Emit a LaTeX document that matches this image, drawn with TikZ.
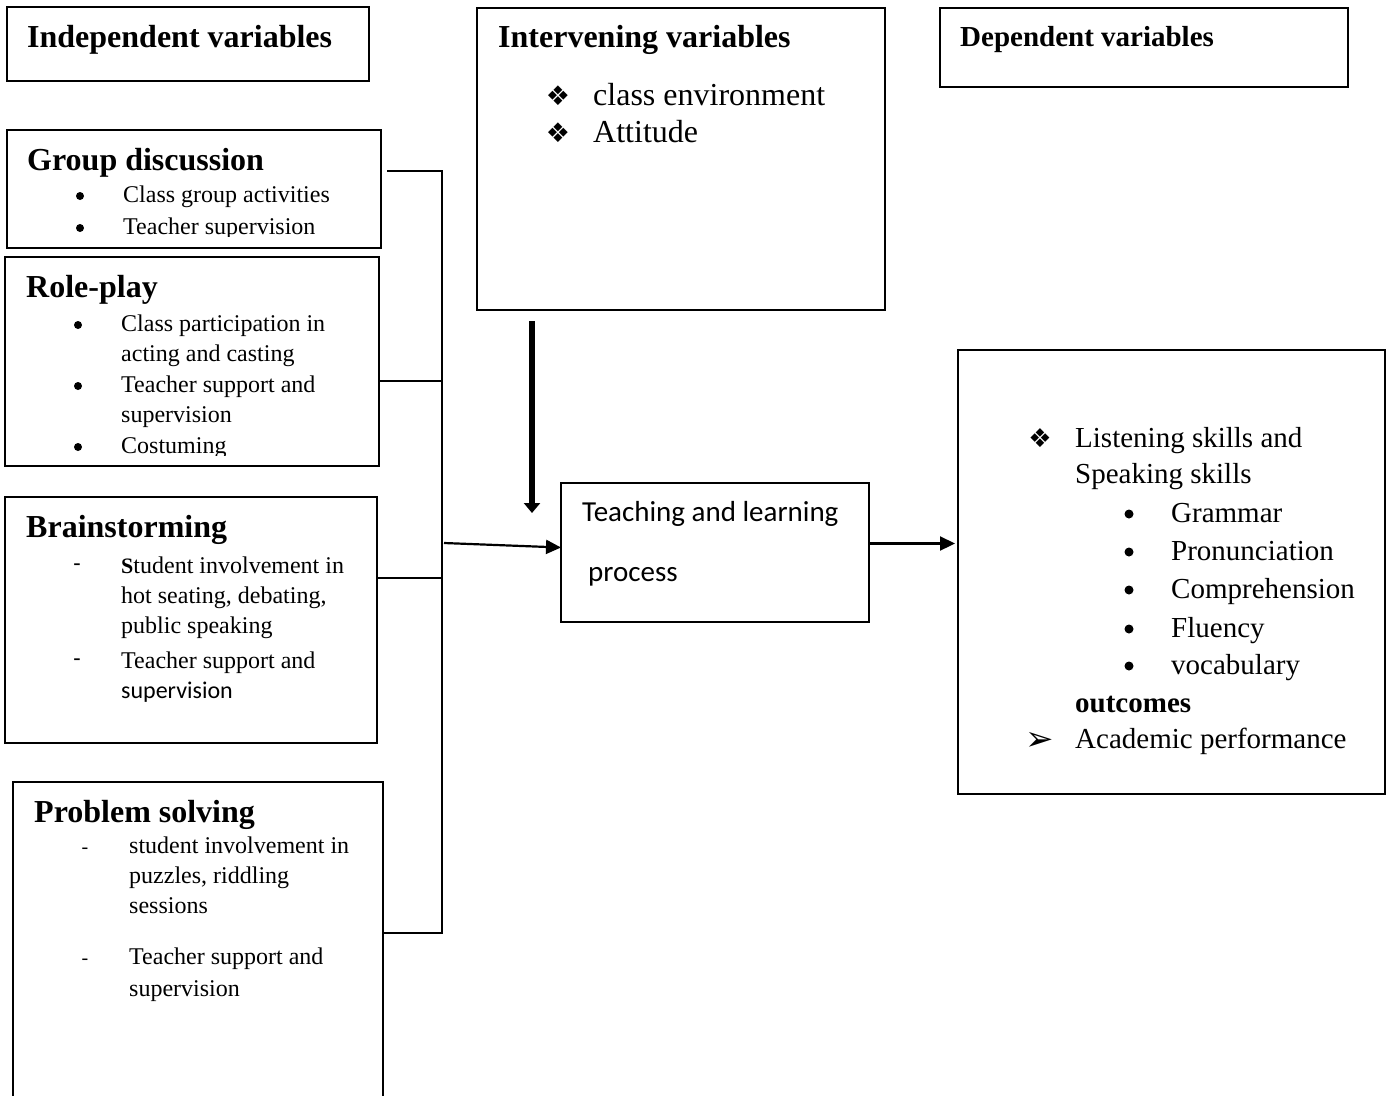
\documentclass[tikz,border=0pt]{standalone}
\usepackage{fontspec}
\setmainfont{Liberation Serif}
\newfontfamily\calibrifont{Carlito}
\newfontfamily\dingfont{DejaVu Sans}
\usetikzlibrary{arrows.meta, positioning, calc}
\tikzset{
  varbox/.style={
    draw=black, line width=1.3pt,
    anchor=north west, inner sep=0pt, outer sep=0pt,
  },
  headtxt/.style={anchor=base west, inner sep=0pt,
    font=\fontsize{32}{36}\selectfont\bfseries},
  itemtxt/.style={anchor=base west, inner sep=0pt,
    font=\fontsize{24}{28}\selectfont},
  bigtxt/.style={anchor=base west, inner sep=0pt,
    font=\fontsize{29}{33}\selectfont},
  bullettxt/.style={anchor=base, inner sep=0pt},
  dotmark/.style={circle, fill=black, inner sep=0pt, minimum size=#1},
  dotmark/.default=8pt,
  link/.style={line width=1.6pt},
  flow/.style={-{Triangle[length=15pt, width=14pt]}, line width=2.2pt},
  thickflow/.style={-{Triangle[length=10pt, width=16pt]}, line width=6.5pt},
}

\begin{document}
\begin{tikzpicture}[x=1pt, y=-1pt]

  \useasboundingbox (0,0) rectangle (1386,1095);
  \clip (0,0) rectangle (1386,1095);

  % Headers
  \node[varbox, minimum width=362pt, minimum height=74pt] (indep) at (7,7) {};
  \node[headtxt] (indep-t) at (27,47) {Independent variables};

  \node[varbox, minimum width=408pt, minimum height=302pt] (interv) at (477,8) {};
  \node[headtxt] (interv-t) at (498,47) {Intervening variables};
  \node[bullettxt, font=\dingfont\fontsize{27}{30}\selectfont] (interv-b1) at (558,105) {❖};
  \node[bullettxt, font=\dingfont\fontsize{27}{30}\selectfont] (interv-b2) at (558,142) {❖};
  \node[itemtxt, font=\fontsize{32}{36}\selectfont] (interv-1) at (593,105) {class environment};
  \node[itemtxt, font=\fontsize{32}{36}\selectfont] (interv-2) at (593,142) {Attitude};

  \node[varbox, minimum width=408pt, minimum height=79pt] (dep) at (940,8) {};
  \node[headtxt, font=\fontsize{29}{33}\selectfont\bfseries] (dep-t) at (960,46) {Dependent variables};

  % Independent variable boxes
  \node[varbox, minimum width=374pt, minimum height=118pt] (grpd) at (7,130) {};
  \node[headtxt] (grpd-t) at (27,170) {Group discussion};
  \begin{scope}
    \clip (7,130) rectangle (381,236);
    \foreach \y/\t in {202/Class group activities, 234/Teacher supervision} {
      \node[dotmark] (grpd-b\y) at (80,\y-6) {};
      \node[itemtxt] (grpd-\y) at (123,\y) {\t};
    }
  \end{scope}

  \node[varbox, minimum width=374pt, minimum height=209pt] (rolep) at (5,257) {};
  \node[headtxt] (rolep-t) at (26,297) {Role-play};
  \begin{scope}
    \clip (5,257) rectangle (379,455);
    \foreach \y in {331,392,453}
      \node[dotmark] (rolep-b\y) at (78,\y-6) {};
    \foreach \y/\t in {331/Class participation in, 361/acting and casting,
                      392/Teacher support and, 422/supervision, 453/Costuming}
      \node[itemtxt] (rolep-\y) at (121,\y) {\t};
  \end{scope}

  \node[varbox, minimum width=372pt, minimum height=246pt] (brain) at (5,497) {};
  \node[headtxt] (brain-t) at (26,537) {Brainstorming};
  \foreach \y in {573,668}
    \node[bullettxt, font=\calibrifont\fontsize{24}{28}\selectfont] (brain-b\y) at (77,\y-2) {-};
  \node[itemtxt] (brain-573) at (121,573)
    {{\fontsize{22}{24}\selectfont\bfseries S}tudent involvement in};
  \node[itemtxt] (brain-603) at (121,603) {hot seating, debating,};
  \node[itemtxt] (brain-633) at (121,633) {public speaking};
  \node[itemtxt] (brain-668) at (121,668) {Teacher support and};
  \node[itemtxt, font=\calibrifont\fontsize{24}{28}\selectfont] (brain-698) at (121,698) {supervision};

  \node[varbox, minimum width=370pt, minimum height=330pt] (probs) at (13,782) {};
  \node[headtxt] (probs-t) at (34,822) {Problem solving};
  \foreach \y in {853,964}
    \node[bullettxt, font=\fontsize{20}{24}\selectfont] (probs-b\y) at (85,\y) {-};
  \foreach \y/\t in {853/student involvement in, 883/{puzzles, riddling},
                    913/sessions, 964/Teacher support and, 996/supervision}
    \node[itemtxt] (probs-\y) at (129,\y) {\t};

  % Process and outcomes
  \node[varbox, minimum width=308pt, minimum height=139pt] (teach) at (561,483) {};
  \node[bigtxt, font=\calibrifont\fontsize{29}{33}\selectfont] (teach-1) at (582,521) {Teaching and learning};
  \node[bigtxt, font=\calibrifont\fontsize{29}{33}\selectfont] (teach-2) at (588,581) {process};

  \node[varbox, minimum width=427pt, minimum height=444pt] (outc) at (958,350) {};
  \node[bullettxt, font=\dingfont\fontsize{26}{30}\selectfont] (outc-b1) at (1040,447) {❖};
  \node[bigtxt] (outc-1) at (1075,447) {Listening skills and};
  \node[bigtxt] (outc-2) at (1075,483) {Speaking skills};
  \foreach \y/\t in {522/Grammar, 560/Pronunciation, 598/Comprehension,
                    637/Fluency, 674/vocabulary} {
    \node[dotmark=9pt] (outc-b\y) at (1129,\y-8) {};
    \node[bigtxt] (outc-\y) at (1171,\y) {\t};
  }
  \node[bigtxt, font=\fontsize{29}{33}\selectfont\bfseries] (outc-o) at (1075,712) {outcomes};
  \node[bullettxt, font=\dingfont\fontsize{34}{36}\selectfont] (outc-b2) at (1040,750) {➢};
  \node[bigtxt] (outc-3) at (1075,748) {Academic performance};

  % Bracket joining the independent variables
  \coordinate (sp-top) at (442,171);
  \coordinate (sp-rp) at (442,381);
  \coordinate (sp-out) at (442,543);
  \coordinate (sp-bs) at (442,578);
  \coordinate (sp-bot) at (442,933);

  \draw[link] ($(grpd.east |- sp-top)+(6,0)$) -- (sp-top) -- (sp-bot)
    -- (probs.east |- sp-bot);
  \draw[link] (rolep.east |- sp-rp) -- (sp-rp);
  \draw[link] (brain.east |- sp-bs) -- (sp-bs);

  % Arrows
  \draw[flow] ($(sp-out)+(2,0)$) -- ($(teach.west)+(0,-5)$);
  \draw[thickflow] ($(interv.south west)+(55,11)$) -- ($(teach.north west)+(-29,30)$);
  \draw[flow] ($(teach.east)+(0,-9)$) -- ($(teach.east -| outc.west)+(-3,-9)$);

\end{tikzpicture}
\end{document}
